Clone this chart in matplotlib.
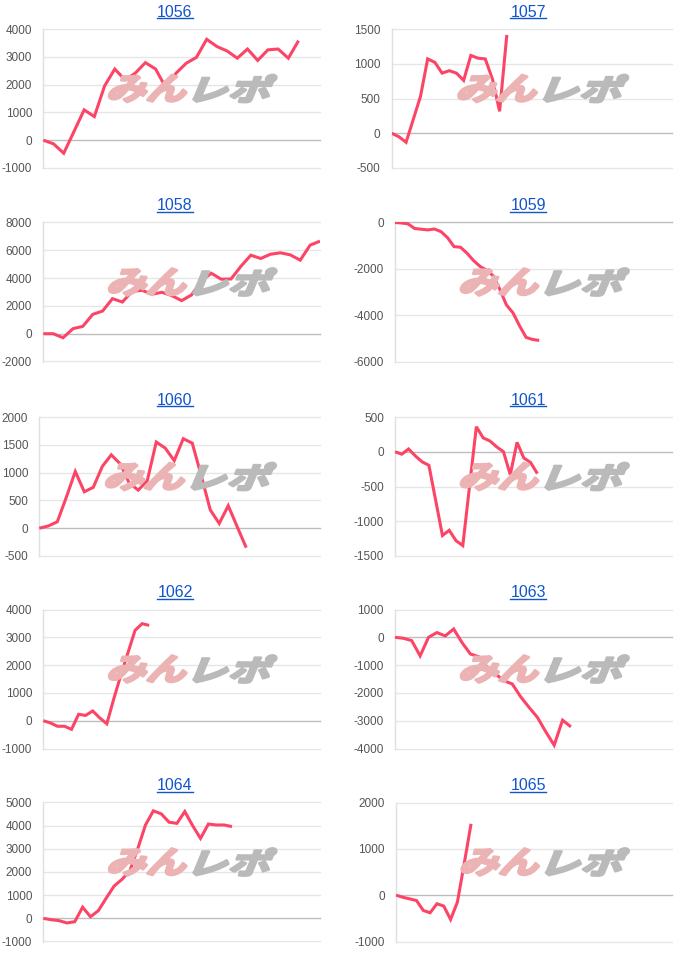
import matplotlib
matplotlib.use('Agg')
import matplotlib.pyplot as plt
from matplotlib.font_manager import FontProperties
from matplotlib.textpath import TextPath
from matplotlib.patches import PathPatch
from matplotlib.transforms import Affine2D
from matplotlib.lines import Line2D

# machine numbers and their running totals
names = ["1056", "1057", "1058", "1059", "1060", "1061", "1062", "1063", "1064", "1065"]

m1056 = [0, -130, -470, 310, 1090, 850, 1950, 2560, 2170, 2410, 2790, 2560, 1890,
         2410, 2770, 2980, 3630, 3370, 3210, 2950, 3280, 2870, 3250, 3280, 2950, 3580]
m1057 = [0, -50, -130, 200, 530, 1070, 1020, 865, 900, 865, 760, 1120, 1080, 1070,
         780, 315, 1415]
m1058 = [0, 0, -290, 360, 530, 1390, 1630, 2520, 2280, 3050, 3120, 2840, 2980, 2740,
         2380, 2790, 3800, 4350, 3920, 3940, 4850, 5650, 5410, 5720, 5820, 5670, 5290,
         6370, 6660]
m1059 = [0, -20, -60, -260, -290, -320, -280, -390, -650, -1040, -1070, -1330, -1650,
         -1900, -2060, -2310, -2890, -3560, -3900, -4460, -4960, -5050, -5090]
m1060 = [0, 40, 115, 555, 1020, 655, 735, 1110, 1320, 1155, 810, 685, 855, 1550, 1440,
         1215, 1610, 1530, 945, 330, 85, 405, 25, -350]
m1061 = [0, -35, 40, -60, -145, -195, -700, -1205, -1130, -1280, -1350, -490, 360, 200,
         155, 70, 0, -330, 135, -90, -155, -315]
m1062 = [0, -80, -200, -200, -310, 230, 190, 350, 100, -110, 800, 1650, 2450, 3250,
         3490, 3430]
m1063 = [0, -35, -120, -670, 0, 170, 50, 300, -190, -600, -700, -1080, -1320, -1560,
         -1680, -2140, -2520, -2880, -3400, -3880, -2980, -3220]
m1064 = [0, -60, -100, -200, -145, 480, 70, 330, 870, 1390, 1680, 2040, 2990, 4030,
         4640, 4510, 4150, 4100, 4610, 4000, 3450, 4070, 4030, 4030, 3960]
m1065 = [0, -45, -80, -115, -330, -380, -185, -235, -525, -150, 680, 1540]

series = [m1056, m1057, m1058, m1059, m1060, m1061, m1062, m1063, m1064, m1065]

# axis settings per panel: (ymin, ymax, step), x extent in sample units
y_axes = [(-1000, 4000, 1000), (-500, 1500, 500), (-2000, 8000, 2000), (-6000, 0, 2000),
          (-500, 2000, 500), (-1500, 500, 500), (-1000, 4000, 1000), (-4000, 1000, 1000),
          (-1000, 5000, 1000), (-1000, 2000, 1000)]
x_ext = [27.1, 39.0, 28, 42.3, 31.2, 40.9, 39.2, 33.1, 35.2, 40.5]

# layout in pixels
W, H = 700, 965
row_tops = [29, 222.5, 417, 609.5, 802.5]
ax_h = 139
lefts = [43.3, 391.7, 43.3, 395, 39.3, 395, 43.3, 395, 43.3, 396]
rights = [320, 672.3]
title_x = [175, 528]

LINE = '#fc4566'
fig = plt.figure(figsize=(W / 100, H / 100), dpi=100)
fp_wm = FontProperties(family=['Noto Sans CJK JP'], weight='bold')


def watermark(txt, box, color):
    # slanted text outline stretched into a pixel box (x0, y0, x1, y1)
    tp = TextPath((0, 0), txt, size=36, prop=fp_wm)
    path = tp.transformed(Affine2D().skew_deg(16, 0))
    ext = path.get_extents()
    x0, y0, x1, y1 = box
    tr = (Affine2D().translate(-ext.x0, -ext.y0)
          .scale((x1 - x0) / ext.width, (y1 - y0) / ext.height)
          .translate(x0, y0))
    p = PathPatch(path.transformed(tr), facecolor=color, edgecolor=color,
                  lw=2.0, joinstyle='round', zorder=0.5)
    p.set_transform(Affine2D())
    fig.add_artist(p)


titles = []
for i, (name, vals) in enumerate(zip(names, series)):
    col = i % 2
    row = i // 2
    L = lefts[i]
    R = rights[col]
    T = row_tops[row]

    # watermark "みんレポ" behind the chart
    yb, yt = H - (T + 73), H - (T + 46)
    aw = R - L
    watermark('みん', (L + aw * 0.238, yb, L + aw * 0.517, yt), '#ebb3b3')
    watermark('レポ', (L + aw * 0.543, yb, L + aw * 0.842, yt), '#bababa')

    ax = fig.add_axes([L / W, 1 - (T + ax_h) / H, aw / W, ax_h / H])
    ymin, ymax, step = y_axes[i]
    ticks = list(range(ymin, ymax + 1, step))
    for t in ticks:
        c = '#bdbdbd' if t == 0 else '#e6e6e6'
        ax.axhline(t, color=c, lw=1.0, zorder=1, clip_on=False)
    ax.axvline(0, color='#e0e0e0', lw=1.0, zorder=1, clip_on=False)
    ax.plot(range(len(vals)), vals, color=LINE, lw=2.2, zorder=3,
            solid_joinstyle='miter', solid_capstyle='butt')
    ax.set_xlim(0, x_ext[i])
    ax.set_ylim(ymin, ymax)
    ax.set_yticks(ticks)
    ax.set_yticklabels([str(t) for t in ticks], fontsize=8.5, color='#555555',
                       family='Liberation Sans')
    ax.set_xticks([])
    ax.tick_params(axis='y', length=0, pad=8)
    for s in ax.spines.values():
        s.set_visible(False)
    ax.set_facecolor('none')

    t = fig.text(title_x[col] / W, 1 - (T - 12.3) / H, name, ha='center',
                 va='baseline', fontsize=11.5, color='#1155cc',
                 family='Liberation Sans')
    titles.append((t, T))

fig.canvas.draw()
r = fig.canvas.get_renderer()
for t, T in titles:
    bb = t.get_window_extent(r)
    y = (H - (T - 11)) / H
    fig.add_artist(Line2D([bb.x0 / W, bb.x1 / W], [y, y], color='#1155cc', lw=1.0))

fig.savefig('out.png', dpi=100)
